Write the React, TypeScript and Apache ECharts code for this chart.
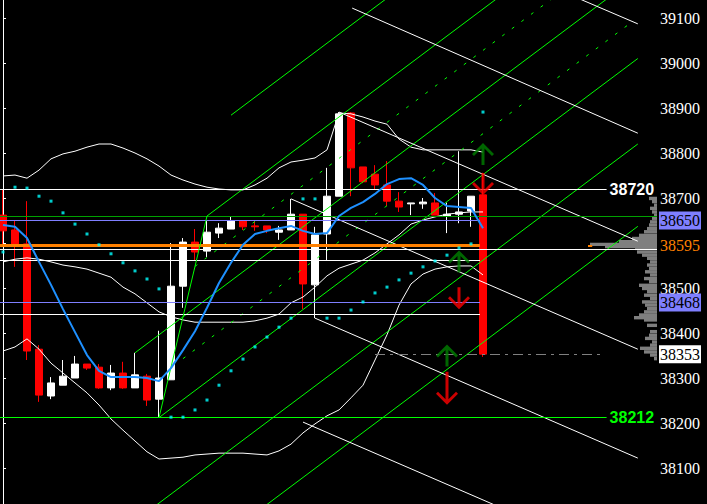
import React, { useEffect, useRef } from "react";
import * as echarts from "echarts";

// ---------- data ----------
const slotCount = 55;
const slots = Array.from({ length: slotCount }, (_, i) => `${i}`);

const openPrices = [38662, 38629, 38598, 38364, 38260, 38284, 38300, 38331, 38324, 38278, 38311, 38278, 38304, 38253, 38296, 38504, 38602, 38582, 38622, 38631, 38649, 38638, 38638, 38624, 38629, 38664, 38507, 38620, 38704, 38889, 38769, 38753, 38729, 38693, 38687, 38687, 38689, 38660, 38664, 38671, 38707];
const closePrices = [38627, 38596, 38360, 38262, 38289, 38304, 38331, 38322, 38278, 38311, 38278, 38307, 38251, 38300, 38504, 38602, 38580, 38624, 38633, 38649, 38636, 38636, 38629, 38629, 38664, 38509, 38618, 38704, 38887, 38767, 38736, 38729, 38693, 38680, 38689, 38691, 38662, 38664, 38669, 38704, 38353];
const lowPrices = [38591, 38547, 38340, 38247, 38253, 38284, 38300, 38318, 38276, 38273, 38276, 38278, 38238, 38212, 38296, 38456, 38562, 38569, 38611, 38631, 38629, 38627, 38622, 38607, 38629, 38453, 38433, 38562, 38704, 38704, 38733, 38718, 38682, 38669, 38662, 38676, 38662, 38622, 38644, 38636, 38347];
const highPrices = [38718, 38651, 38693, 38373, 38302, 38340, 38349, 38331, 38331, 38329, 38336, 38356, 38309, 38405, 38600, 38611, 38631, 38651, 38644, 38660, 38649, 38651, 38638, 38638, 38698, 38664, 38636, 38767, 38891, 38891, 38769, 38773, 38782, 38713, 38689, 38700, 38711, 38690, 38804, 38704, 38756];

const bandUpper = [38749, 38751, 38744, 38762, 38787, 38798, 38804, 38813, 38820, 38820, 38811, 38800, 38787, 38771, 38751, 38740, 38731, 38724, 38720, 38718, 38718, 38729, 38744, 38767, 38780, 38784, 38789, 38807, 38889, 38887, 38880, 38871, 38864, 38831, 38813, 38807, 38807, 38807, 38807, 38807, 38802];
const bandMiddle = [38558, 38564, 38567, 38564, 38558, 38551, 38547, 38542, 38533, 38524, 38502, 38487, 38467, 38447, 38436, 38429, 38424, 38424, 38424, 38424, 38424, 38427, 38433, 38442, 38467, 38480, 38502, 38527, 38544, 38553, 38562, 38578, 38598, 38618, 38642, 38651, 38658, 38664, 38667, 38669, 38669];
const bandLower = [38360, 38369, 38387, 38364, 38333, 38311, 38289, 38267, 38240, 38209, 38184, 38160, 38136, 38120, 38122, 38124, 38129, 38131, 38133, 38133, 38133, 38131, 38129, 38138, 38153, 38178, 38198, 38216, 38229, 38256, 38284, 38340, 38396, 38462, 38509, 38531, 38542, 38547, 38549, 38549, 38529];
const maLine = [38640, 38636, 38611, 38558, 38507, 38453, 38402, 38351, 38316, 38302, 38302, 38302, 38300, 38293, 38322, 38362, 38404, 38456, 38511, 38556, 38596, 38620, 38627, 38633, 38638, 38627, 38620, 38622, 38660, 38678, 38691, 38709, 38731, 38742, 38744, 38729, 38700, 38682, 38680, 38678, 38633];
const sarDots = [38580, 38724, 38722, 38704, 38693, 38667, 38642, 38620, 38596, 38576, 38556, 38538, 38520, 38498, 38213, 38213, 38229, 38251, 38284, 38316, 38342, 38369, 38391, 38413, 38433, 38698, 38698, 38433, 38433, 38451, 38469, 38489, 38502, 38518, 38533, 38547, 38560, 38573, 38589, 38598, 38891];

// trend lines: [fromSlot, fromPrice, toSlot, toPrice]
const handleLine = [13, 38212, 17, 38660];
const greenSolidLines = [
  [19, 38884, 32, 39144],
  [17, 38660, 41.5, 39150],
  [11, 38356, 50.5, 39146],
  [13, 38212, 52.9, 39010],
  [12, 38002, 52.9, 38820],
  [21.5, 38009, 52.9, 38637],
];
const greenDashedLines = [
  [16, 38548, 45.75, 39143],
  [15, 38343, 52.4, 39091],
];
const whiteLines = [
  [48, 39143, 52.9, 39087],
  [29.1, 39122, 52.9, 38844],
  [28, 38891, 52.9, 38604],
  [24, 38698, 52.9, 38364],
  [26, 38433, 52.9, 38122],
  [25, 38202, 42, 38006],
];

// horizontal levels
const levelPrices = [38720, 38659, 38650, 38595, 38587, 38562, 38468, 38442, 38353, 38212];
const levelFrom = [-0.5, -0.5, -0.5, -0.5, -0.5, -0.5, -0.5, -0.5, 31, -0.5];
const levelTo = [50.3, 54.5, 39.75, 39.75, 54.5, 39.75, 39.75, 39.75, 49.75, 50.3];
const levelKinds = ["white", "darkgreen", "purple", "orange", "white", "white", "purple", "white", "graydash", "lime"];
const levelTextPrices = [38720, 38212];
const axisTagPrices = [38650, 38595, 38468, 38353];
const axisTagKinds = ["purple", "orange", "purple", "white"];
const hiddenTickLabels = [38600];
const pocPrice = 38595;
const pocFrom = 48.75;
const pocTo = 49.1;

// volume profile
const profilePrices = [38699, 38692, 38684, 38677, 38669, 38662, 38655, 38647, 38640, 38632, 38625, 38617, 38610, 38603, 38597, 38592, 38588, 38580, 38573, 38566, 38558, 38551, 38543, 38536, 38529, 38521, 38514, 38506, 38499, 38492, 38484, 38477, 38469, 38462, 38454, 38447, 38440, 38434, 38429, 38417, 38403, 38395, 38388, 38380, 38373, 38366, 38358, 38351, 38343];
const profileVolumes = [8, 5, 3, 7, 5, 3, 5, 7, 8, 10, 13, 18, 25, 38, 67, 52, 22, 20, 15, 10, 7, 10, 8, 12, 7, 13, 8, 18, 15, 10, 13, 7, 15, 12, 10, 13, 18, 23, 13, 10, 7, 8, 12, 5, 7, 17, 13, 7, 3];

// signal arrows [slot, price]
const arrowUp = [[40, 38798], [38, 38559], [37, 38350]];
const arrowDown = [[40, 38731], [38, 38477], [37, 38277]];

// ---------- styles ----------
const levelStyle: Record<string, any> = {
  white: { color: "#ffffff", width: 1, type: "solid" },
  darkgreen: { color: "#00a000", width: 1, type: "solid" },
  purple: { color: "#7f7fff", width: 1, type: "solid" },
  orange: { color: "#ff8000", width: 3, type: "solid" },
  graydash: { color: "#808080", width: 1, type: [10, 5, 3, 5] },
  lime: { color: "#00ff00", width: 1, type: "solid" },
};
const levelTextColor: Record<string, string> = { white: "#ffffff", lime: "#00ff00" };
const tagStyle: Record<string, any> = {
  purple: { backgroundColor: "#7f7fff", color: "#000000" },
  orange: { color: "#ff8000" },
  white: { backgroundColor: "#ffffff", color: "#000000" },
};

const upPath = "path://M11,0 L22,11 L20,13 L12.5,5.5 L12.5,22 L9.5,22 L9.5,5.5 L2,13 L0,11 Z";
const downPath = "path://M9.5,0 L12.5,0 L12.5,16.5 L20,9 L22,11 L11,22 L0,11 L2,9 L9.5,16.5 Z";
const downLongPath = "path://M9.5,0 L12.5,0 L12.5,27.5 L20,20 L22,22 L11,33 L0,22 L2,20 L9.5,27.5 Z";

const toSegments = (list: number[][]) =>
  list.map(([x1, y1, x2, y2]) => ({ coords: [[x1, y1], [x2, y2]] }));

const Y_MIN = 38020;
const Y_MAX = 39140;

function buildOption() {
  const candles = openPrices.map((o, i) => [o, closePrices[i], lowPrices[i], highPrices[i]]);

  const levelMarks: any[] = levelPrices.map((p, i) => {
    const kind = levelKinds[i];
    const showText = levelTextPrices.includes(p) && (kind === "white" || kind === "lime");
    return [
      {
        coord: [levelFrom[i], p],
        lineStyle: levelStyle[kind],
        label: showText
          ? {
              show: true,
              position: "end",
              distance: 3,
              formatter: String(p),
              color: levelTextColor[kind],
              fontFamily: "Liberation Sans",
              fontWeight: "bold",
              fontSize: 16,
            }
          : { show: false },
      },
      { coord: [levelTo[i], p] },
    ];
  });

  const tagMarks: any[] = axisTagPrices.map((p, i) => [
    {
      coord: [54.3, p],
      lineStyle: { color: "transparent", width: 1, type: "solid" },
      label: {
        show: true,
        position: "end",
        distance: 2,
        formatter: String(p),
        fontFamily: "Liberation Serif",
        fontSize: 16,
        lineHeight: 17,
        padding: [1, 1, 0, 1],
        ...tagStyle[axisTagKinds[i]],
      },
    },
    { coord: [54.5, p] },
  ]);

  const pocMark: any[] = [
    [
      { coord: [pocFrom, pocPrice], lineStyle: { color: "#ff8000", width: 2, type: "solid" }, label: { show: false } },
      { coord: [pocTo, pocPrice] },
    ],
  ];

  const lineBase = {
    type: "line",
    xAxisIndex: 0,
    yAxisIndex: 0,
    symbol: "none",
    silent: true,
    z: 3,
  };

  return {
    animation: false,
    backgroundColor: "#000000",
    textStyle: { fontFamily: "Liberation Serif" },
    grid: [
      { left: -3, right: 50, top: 0, bottom: 0, containLabel: false, outerBoundsMode: "none" },
      { right: 50, width: 80, top: 0, bottom: 0, containLabel: false, outerBoundsMode: "none" },
    ],
    xAxis: [
      { type: "category", data: slots, gridIndex: 0, show: false, boundaryGap: true },
      { type: "value", min: -0.5, max: 54.5, gridIndex: 0, show: false },
      { type: "value", min: 0, max: 80, inverse: true, gridIndex: 1, show: false },
    ],
    yAxis: [
      {
        type: "value",
        gridIndex: 0,
        position: "right",
        min: Y_MIN,
        max: Y_MAX,
        splitNumber: 11,
        axisLine: { show: true, lineStyle: { color: "#ffffff", width: 1 } },
        axisTick: { show: true, length: 3, lineStyle: { color: "#ffffff" } },
        axisLabel: {
          color: "#ffffff",
          fontFamily: "Liberation Serif",
          fontSize: 16,
          margin: 3,
          showMinLabel: false,
          showMaxLabel: false,
          formatter: (v: number) => (v % 100 !== 0 || hiddenTickLabels.includes(v) ? "" : String(v)),
        },
        splitLine: { show: false },
      },
      { type: "value", gridIndex: 1, min: Y_MIN, max: Y_MAX, show: false },
    ],
    series: [
      {
        type: "custom",
        name: "profile",
        xAxisIndex: 2,
        yAxisIndex: 1,
        silent: true,
        z: 1,
        data: profileVolumes.map((v, i) => [v, profilePrices[i]]),
        renderItem: (params: any, api: any) => {
          const vol = api.value(0);
          const price = api.value(1);
          const a = api.coord([0, price]);
          const b = api.coord([vol, price]);
          return {
            type: "rect",
            shape: { x: Math.min(a[0], b[0]), y: a[1] - 1.7, width: Math.abs(a[0] - b[0]), height: 3.4 },
            style: { fill: "#7f7f7f" },
          };
        },
      },
      {
        type: "candlestick",
        name: "price",
        xAxisIndex: 0,
        yAxisIndex: 0,
        barWidth: 7,
        silent: true,
        z: 2,
        data: candles,
        itemStyle: {
          color: "#ffffff",
          color0: "#ff0000",
          borderColor: "#ffffff",
          borderColor0: "#ff0000",
          borderWidth: 1,
        },
      },
      { ...lineBase, name: "bbUpper", data: bandUpper, lineStyle: { color: "#ffffff", width: 1 } },
      { ...lineBase, name: "bbMiddle", data: bandMiddle, lineStyle: { color: "#ffffff", width: 1 } },
      { ...lineBase, name: "bbLower", data: bandLower, lineStyle: { color: "#ffffff", width: 1 } },
      {
        type: "lines",
        name: "greenSolid",
        coordinateSystem: "cartesian2d",
        xAxisIndex: 1,
        yAxisIndex: 0,
        silent: true,
        z: 4,
        lineStyle: { color: "#00ff00", width: 1, opacity: 1, curveness: 0 },
        data: toSegments(greenSolidLines),
      },
      {
        type: "lines",
        name: "greenDashed",
        coordinateSystem: "cartesian2d",
        xAxisIndex: 1,
        yAxisIndex: 0,
        silent: true,
        z: 4,
        lineStyle: { color: "#00ff00", width: 1, opacity: 1, curveness: 0, type: [3, 9] },
        data: toSegments(greenDashedLines),
      },
      {
        type: "lines",
        name: "whiteTrend",
        coordinateSystem: "cartesian2d",
        xAxisIndex: 1,
        yAxisIndex: 0,
        silent: true,
        z: 4,
        lineStyle: { color: "#ffffff", width: 1, opacity: 1, curveness: 0 },
        data: toSegments(whiteLines),
      },
      {
        type: "line",
        name: "handle",
        xAxisIndex: 1,
        yAxisIndex: 0,
        symbol: "none",
        silent: true,
        z: 5,
        lineStyle: { color: "#00ff00", width: 1 },
        data: [
          [handleLine[0], handleLine[1]],
          [handleLine[2], handleLine[3]],
        ],
        markLine: {
          silent: true,
          symbol: ["none", "none"],
          label: { show: false },
          emphasis: { disabled: true },
          data: [...levelMarks, ...tagMarks, ...pocMark],
        },
      },
      {
        ...lineBase,
        name: "ma",
        z: 6,
        data: maLine,
        lineStyle: { color: "#1e90ff", width: 2 },
      },
      {
        type: "scatter",
        name: "sar",
        xAxisIndex: 0,
        yAxisIndex: 0,
        symbol: "rect",
        symbolSize: 3,
        silent: true,
        z: 7,
        itemStyle: { color: "#00ffff" },
        data: sarDots,
      },
      {
        type: "scatter",
        name: "buy",
        xAxisIndex: 1,
        yAxisIndex: 0,
        symbol: upPath,
        symbolSize: [22, 22],
        silent: true,
        z: 8,
        itemStyle: { color: "#008000" },
        data: arrowUp,
      },
      {
        type: "scatter",
        name: "sell",
        xAxisIndex: 1,
        yAxisIndex: 0,
        symbol: downPath,
        symbolSize: [22, 22],
        silent: true,
        z: 8,
        itemStyle: { color: "#ff0000" },
        data: arrowDown.map((v, i) =>
          i === 2 ? { value: v, symbol: downLongPath, symbolSize: [22, 33] } : { value: v }
        ),
      },
    ],
  };
}

export default function App() {
  const ref = useRef<HTMLDivElement>(null);
  useEffect(() => {
    document.body.style.margin = "0";
    document.body.style.background = "#000";
    const chart = echarts.init(ref.current as HTMLDivElement, null, { renderer: "svg" });
    chart.setOption(buildOption() as any);
    return () => chart.dispose();
  }, []);
  return <div ref={ref} style={{ width: 707, height: 504, background: "#000" }} />;
}
